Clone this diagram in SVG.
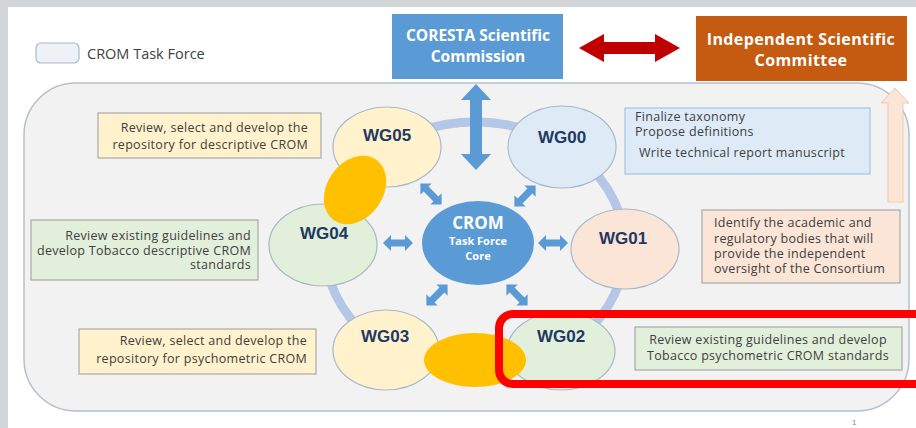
<svg xmlns="http://www.w3.org/2000/svg" width="916" height="428" viewBox="0 0 916 428">
<style>
.box{stroke:#a9a9a9;stroke-width:1.2}
.bt{font-family:"Open Sans","Liberation Sans",sans-serif;font-size:12.5px;letter-spacing:0.3px;fill:#404040}
.wg{font-family:"Liberation Sans",Arial,sans-serif;font-size:17px;font-weight:bold;fill:#1f3864;text-anchor:middle}
.node{stroke:#a7b9cc;stroke-width:1.2}
.hd{font-family:"Open Sans","Liberation Sans",sans-serif;font-weight:bold;fill:#ffffff;text-anchor:middle}
.ba{fill:#5b9bd5}
.org{fill:#ffc000}
</style>
<defs>
<path id="sa" d="M-15,0 L-7,-8 L-7,-3.5 L7,-3.5 L7,-8 L15,0 L7,8 L7,3.5 L-7,3.5 L-7,8 Z"/>
</defs>
<rect x="0" y="0" width="916" height="428" fill="#d3d5d7"/>
<rect x="8" y="7" width="908" height="421" fill="#ffffff"/>

<g id="legend">
<rect x="36" y="43" width="43" height="20" rx="5" fill="#eef1f5" stroke="#a7b9cc" stroke-width="1.2"/>
<text x="87" y="59" style="font-family:'Open Sans','Liberation Sans',sans-serif;font-size:14.5px;fill:#404040">CROM Task Force</text>
</g>

<g id="taskforce">
<rect x="24" y="83" width="885" height="328" rx="52" fill="#f2f2f2" stroke="#b4c0cf" stroke-width="1.5"/>
<ellipse cx="475" cy="248" rx="150" ry="126" fill="none" stroke="#b4c7e7" stroke-width="9"/>
</g>

<g id="coresta">
<rect x="392" y="14" width="171" height="65" fill="#5b9bd5"/>
<text class="hd" x="478" y="41" font-size="15.5">CORESTA Scientific</text>
<text class="hd" x="478" y="62" font-size="15.5">Commission</text>
</g>

<g id="isc">
<rect x="696" y="16" width="211" height="65" fill="#c55a11"/>
<text class="hd" x="801" y="45" font-size="16" letter-spacing="0.4">Independent Scientific</text>
<text class="hd" x="801" y="66" font-size="16" letter-spacing="0.4">Committee</text>
</g>

<g id="connectors">
<path d="M579,48 L604,34 L604,42 L655,42 L655,34 L680,48 L655,62 L655,54 L604,54 L604,62 Z" fill="#c00000"/>
<path d="M895,88 L909,103 L903,103 L903,202 L888,202 L888,103 L881,103 Z" fill="#fbe5d6" stroke="#f4c7a8" stroke-width="1"/>
<path class="ba" d="M476,84 L491,100 L482,100 L482,154 L491,154 L476,170 L461,154 L470,154 L470,100 L461,100 Z"/>
<use href="#sa" class="ba" transform="translate(431,194) rotate(45)"/>
<use href="#sa" class="ba" transform="translate(525,196) rotate(-45)"/>
<use href="#sa" class="ba" transform="translate(398,243)"/>
<use href="#sa" class="ba" transform="translate(553,243)"/>
<use href="#sa" class="ba" transform="translate(437,295) rotate(-45)"/>
<use href="#sa" class="ba" transform="translate(517,295) rotate(45)"/>
</g>

<g id="core">
<ellipse cx="478" cy="243" rx="56" ry="42" fill="#5b9bd5"/>
<text class="hd" x="478" y="229" font-size="17">CROM</text>
<text class="hd" x="478" y="245" font-size="11">Task Force</text>
<text class="hd" x="478" y="260" font-size="11">Core</text>
</g>

<g id="wg05">
<ellipse class="node" cx="387" cy="147" rx="54" ry="40" fill="#fff2cc"/>
<text class="wg" x="387" y="141">WG05</text>
</g>
<g id="wg00">
<ellipse class="node" cx="562" cy="147" rx="54" ry="41" fill="#deebf7"/>
<text class="wg" x="562" y="143">WG00</text>
</g>
<g id="wg01">
<ellipse class="node" cx="625" cy="249" rx="54" ry="40" fill="#fbe5d6"/>
<text class="wg" x="623" y="244">WG01</text>
</g>
<g id="wg02">
<ellipse class="node" cx="561" cy="351" rx="54" ry="39" fill="#e2efda"/>
<text class="wg" x="561" y="342">WG02</text>
</g>
<g id="wg03">
<ellipse class="node" cx="386" cy="350" rx="53" ry="40" fill="#fff2cc"/>
<text class="wg" x="385" y="342">WG03</text>
</g>
<g id="wg04">
<ellipse class="node" cx="323" cy="245" rx="54" ry="41" fill="#e2efda"/>
<text class="wg" x="324" y="239">WG04</text>
</g>

<g id="overlaps">
<ellipse class="org" cx="355" cy="190" rx="37" ry="28" transform="rotate(-55 355 190)"/>
<ellipse class="org" cx="475" cy="360" rx="51" ry="27"/>
</g>

<g id="note05">
<rect class="box" x="98" y="113" width="223" height="45" fill="#fff2cc"/>
<text class="bt" text-anchor="end" x="308" y="132">Review, select and develop the</text>
<text class="bt" text-anchor="end" x="308" y="149">repository for descriptive CROM</text>
</g>
<g id="note00">
<rect x="625" y="108" width="245" height="66" fill="#deebf7" stroke="#9dc3e6" stroke-width="1.2"/>
<text class="bt" x="635" y="121">Finalize taxonomy</text>
<text class="bt" x="635" y="136">Propose definitions</text>
<text class="bt" x="639" y="157">Write technical report manuscript</text>
</g>
<g id="note01">
<rect class="box" x="702" y="210" width="198" height="73" fill="#fbe5d6"/>
<text class="bt" x="714" y="227">Identify the academic and</text>
<text class="bt" x="714" y="243">regulatory bodies that will</text>
<text class="bt" x="714" y="258">provide the independent</text>
<text class="bt" x="714" y="273">oversight of the Consortium</text>
</g>
<g id="note02">
<rect class="box" x="635" y="327" width="267" height="43" fill="#e2efda"/>
<text class="bt" text-anchor="middle" x="768" y="344">Review existing guidelines and develop</text>
<text class="bt" text-anchor="middle" x="768" y="360">Tobacco psychometric CROM standards</text>
</g>
<g id="note04">
<rect class="box" x="31" y="220" width="227" height="60" fill="#e2efda"/>
<text class="bt" text-anchor="end" x="251" y="240">Review existing guidelines and</text>
<text class="bt" text-anchor="end" x="251" y="255">develop Tobacco descriptive CROM</text>
<text class="bt" text-anchor="end" x="251" y="269">standards</text>
</g>
<g id="note03">
<rect class="box" x="79" y="329" width="237" height="45" fill="#fff2cc"/>
<text class="bt" text-anchor="end" x="307" y="345">Review, select and develop the</text>
<text class="bt" text-anchor="end" x="307" y="363">repository for psychometric CROM</text>
</g>

<g id="highlight">
<rect x="499" y="314" width="440" height="70" rx="14" fill="none" stroke="#ff0000" stroke-width="8"/>
</g>
<text x="852" y="425" style="font-family:'Liberation Sans',sans-serif;font-size:8px;fill:#8c8c8c">1</text>
</svg>
